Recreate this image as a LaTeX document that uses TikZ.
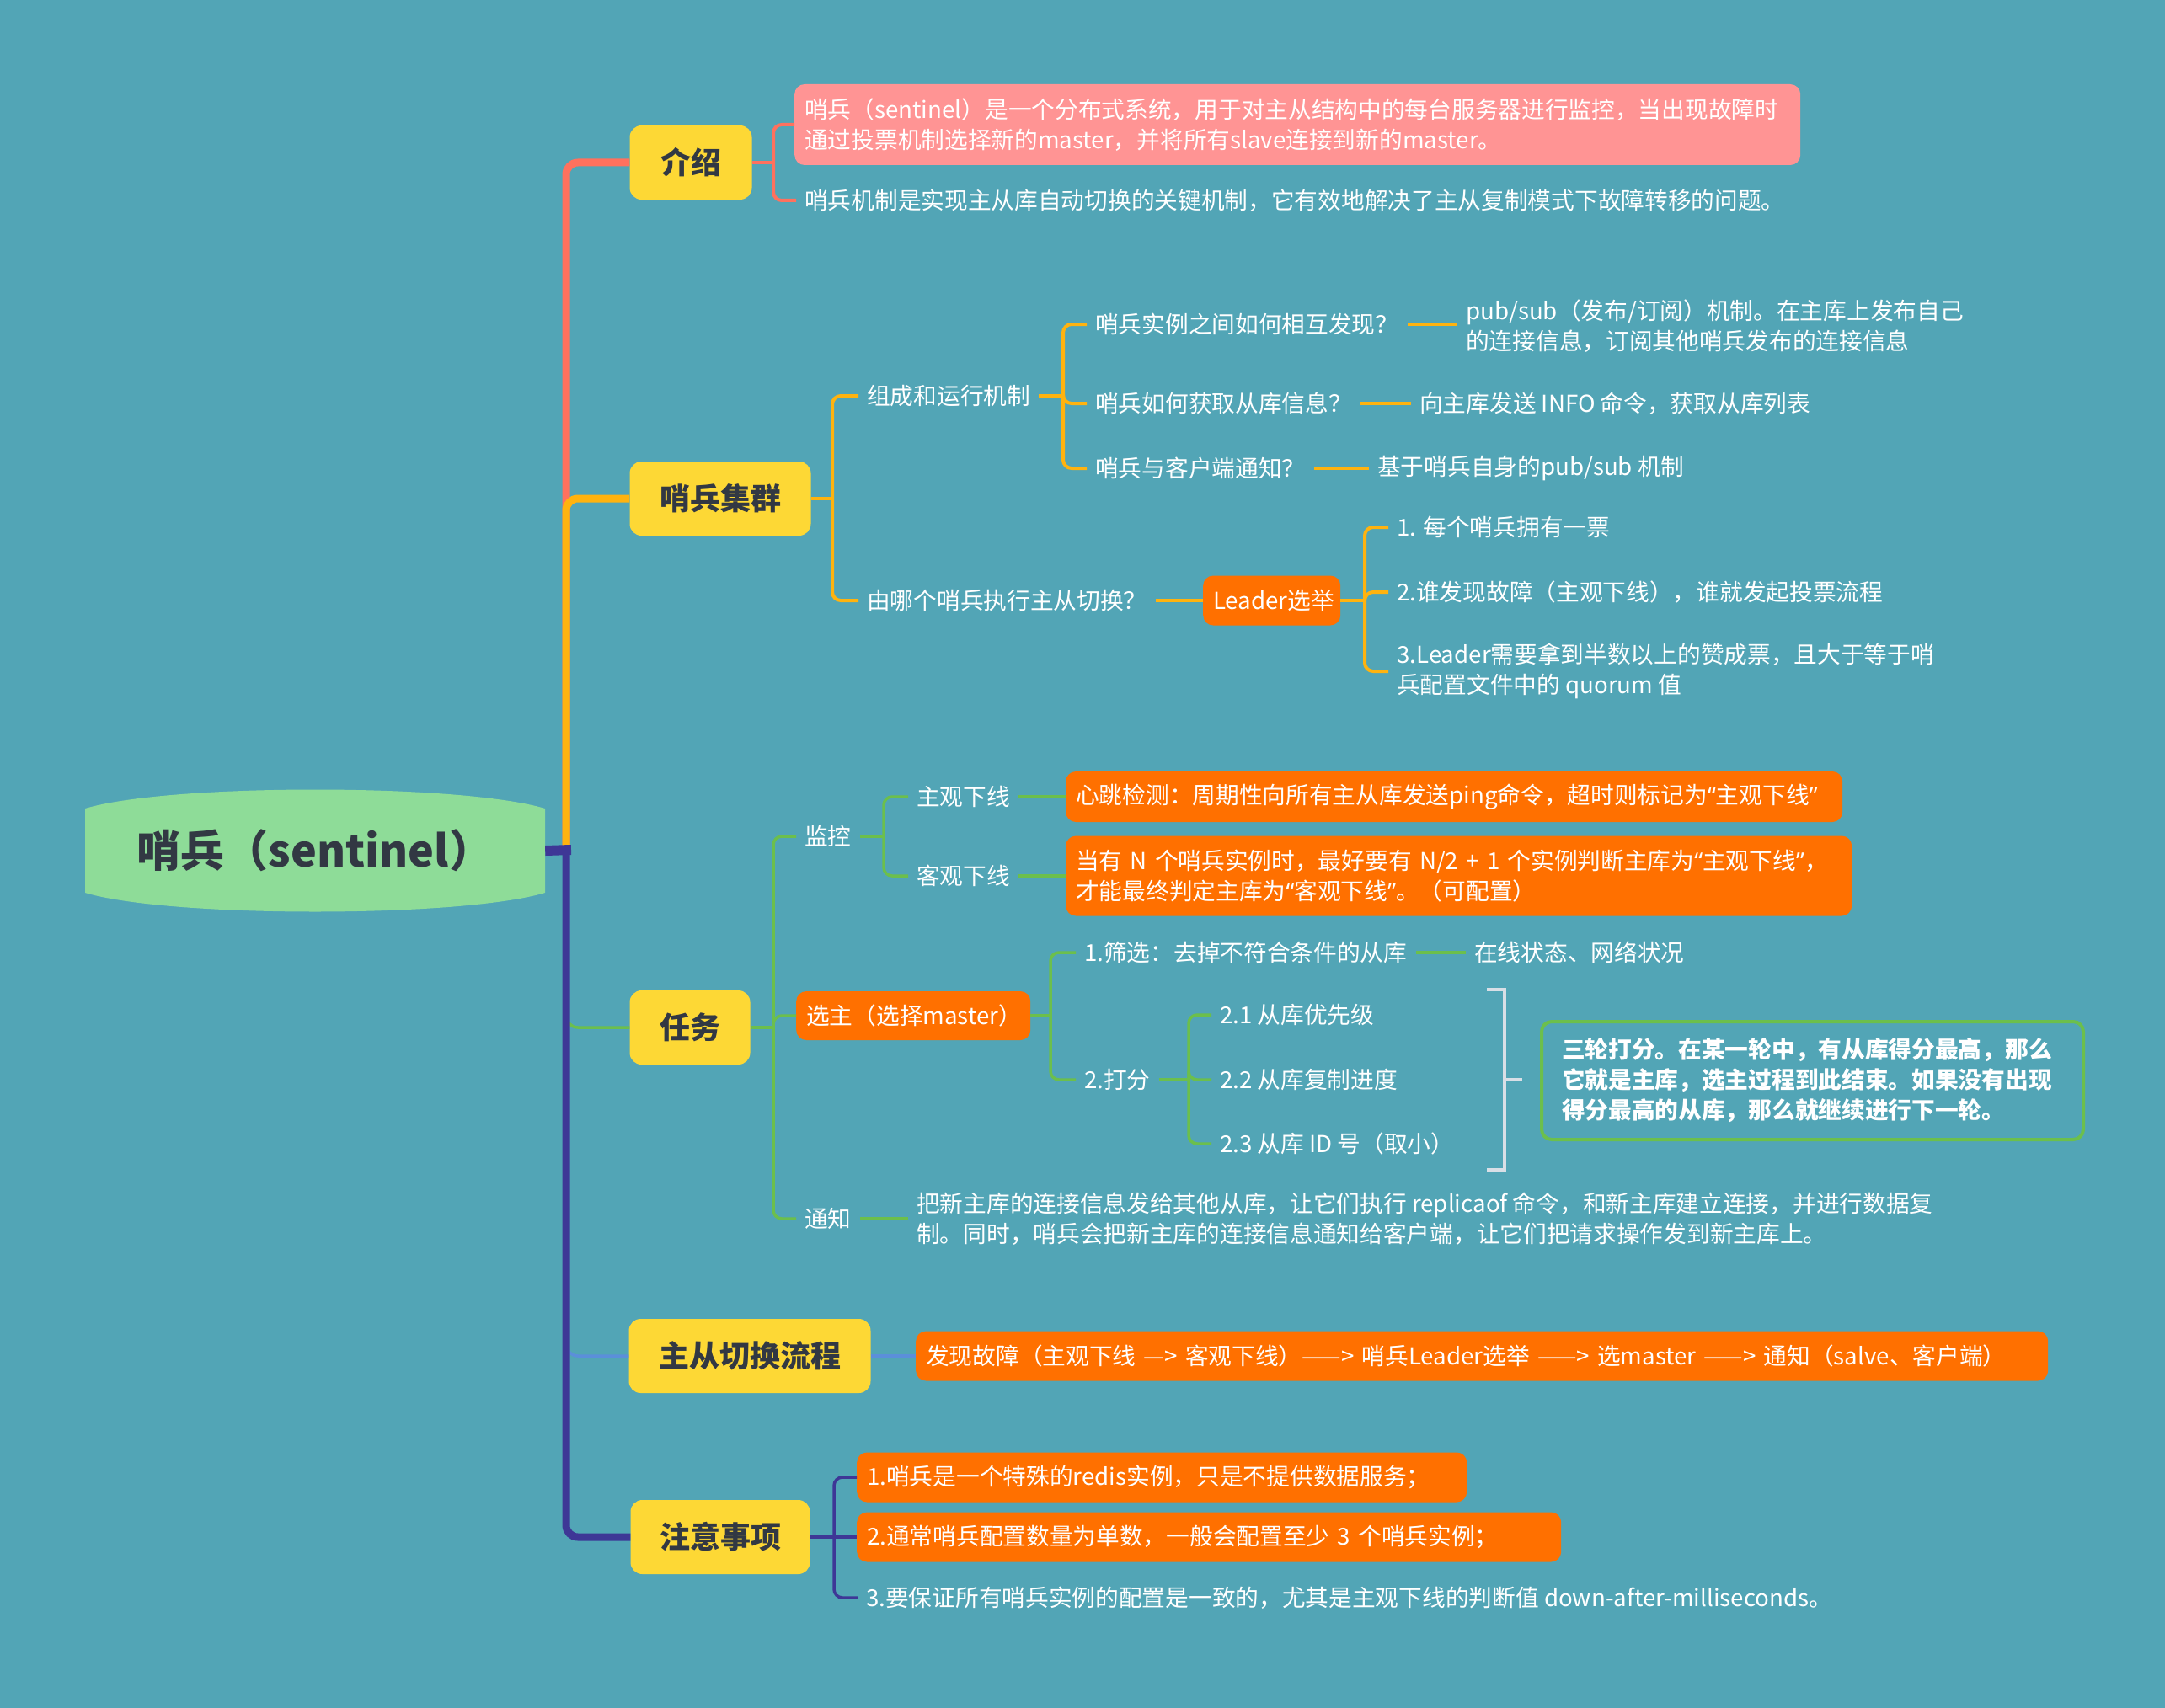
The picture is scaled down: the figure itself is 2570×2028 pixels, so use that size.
\documentclass[tikz,border=0pt]{standalone}
\usepackage{fontspec}
\setmainfont{Noto Sans CJK SC}
\newfontfamily\quotefont{Noto Sans}
\newcommand{\oq}{{\quotefont “}}
\newcommand{\cq}{{\quotefont ”}}
\definecolor{bg}{HTML}{52A5B6}
\definecolor{topicyellow}{HTML}{FDD835}
\definecolor{rootgreen}{HTML}{8EDC98}
\definecolor{darktext}{HTML}{323843}
\definecolor{pinkbox}{HTML}{FF9494}
\definecolor{orangebox}{HTML}{FF7000}
\definecolor{linered}{HTML}{FF715E}
\definecolor{linegold}{HTML}{FFB30F}
\definecolor{linegreen}{HTML}{6CBF4C}
\definecolor{lineblue}{HTML}{5B8FDA}
\definecolor{linepurple}{HTML}{3E3796}
\definecolor{summgray}{HTML}{D9DFE6}
\begin{document}
\begin{tikzpicture}[x=1pt,y=-1pt,
  every node/.style={text=white, font=\fontsize{27.7pt}{36pt}\selectfont},
  lbl/.style={anchor=west, inner xsep=10pt, inner ysep=3pt, align=left},
  topic/.style={fill=topicyellow, rounded corners=14pt, text=darktext,
    font=\fontsize{36pt}{40pt}\selectfont\bfseries, minimum height=88pt, inner sep=0pt},
  card/.style={anchor=west, rounded corners=12pt, inner xsep=12pt, inner ysep=0pt,
    align=left, text width=#1},
  trunk/.style={line width=9pt, rounded corners=14pt},
  slimbranch/.style={line width=3.5pt, rounded corners=14pt},
  twig/.style={line width=4pt, rounded corners=10pt},
]
\useasboundingbox (0,0) rectangle (2570,2028);
\fill[bg] (0,0) rectangle (2570,2028);

% ---------- central topic ----------
\fill[rootgreen] (101,960) .. controls (201,930) and (547,930) .. (647,960)
  -- (647,1060) .. controls (547,1090) and (201,1090) .. (101,1060) -- cycle;
\node[font=\fontsize{52pt}{58pt}\selectfont\bfseries, text=darktext,
  minimum width=546pt, inner sep=0pt] (root) at (374,1010) {哨兵（sentinel）};

% ---------- main topics ----------
\node[topic, minimum width=145pt] (jieshao) at (820,193) {介绍};
\node[topic, minimum width=215pt] (jiqun) at (855,592) {哨兵集群};
\node[topic, minimum width=143pt] (renwu) at (819,1220) {任务};
\node[topic, minimum width=287pt] (liucheng) at (890,1610) {主从切换流程};
\node[topic, minimum width=213pt] (zhuyi) at (855,1825) {注意事项};

% ---------- trunk ----------
\coordinate (hub) at (672,1009);
\draw[trunk, linered] (hub) |- (jieshao.west);
\draw[trunk, linegold] (hub) |- (jiqun.west);
\draw[slimbranch, linegreen] (hub) |- (renwu.west);
\draw[slimbranch, lineblue] (hub) |- (liucheng.west);
\draw[trunk, linepurple] ([yshift=-6pt]hub) |- (zhuyi.west);
\draw[linepurple, line width=12pt] (root.east) -- ([xshift=6pt]hub);

% ---------- 介绍 ----------
\node[card=1170pt, fill=pinkbox, minimum height=96pt] (intro1) at (943,148)
  {哨兵（sentinel）是一个分布式系统，用于对主从结构中的每台服务器进行监控，当出现故障时\\通过投票机制选择新的master，并将所有slave连接到新的master。};
\node[lbl] (intro2) at (945,238) {哨兵机制是实现主从库自动切换的关键机制，它有效地解决了主从复制模式下故障转移的问题。};
\coordinate (r1) at (918,193);
\draw[twig, linered] (jieshao.east) -- (r1);
\draw[twig, linered] (r1) |- (intro1.west);
\draw[twig, linered] (r1) |- (intro2.west);

% ---------- 哨兵集群 ----------
\node[lbl] (zucheng) at (1019,470) {组成和运行机制};
\node[lbl] (q1) at (1290,385) {哨兵实例之间如何相互发现？};
\node[lbl] (a1) at (1730,387) {pub/sub（发布/订阅）机制。在主库上发布自己\\的连接信息，订阅其他哨兵发布的连接信息};
\node[lbl] (q2) at (1290,479) {哨兵如何获取从库信息？};
\node[lbl] (a2) at (1675,479) {向主库发送 INFO 命令，获取从库列表};
\node[lbl] (q3) at (1290,556) {哨兵与客户端通知？};
\node[lbl] (a3) at (1625,556) {基于哨兵自身的pub/sub 机制};
\node[lbl] (youna) at (1019,713) {由哪个哨兵执行主从切换？};
\node[card=139pt, fill=orangebox, minimum height=59pt, align=center] (leader) at (1428,713) {Leader选举};
\node[lbl] (v1) at (1648,626) {1. 每个哨兵拥有一票};
\node[lbl] (v2) at (1648,703) {2.谁发现故障（主观下线），谁就发起投票流程};
\node[lbl] (v3) at (1648,797) {3.Leader需要拿到半数以上的赞成票，且大于等于哨\\兵配置文件中的 quorum 值};

\coordinate (g1) at (988,592);
\coordinate (g2) at (1262,470);
\coordinate (g3) at (1620,713);
\begin{scope}[twig, linegold]
  \draw (jiqun.east) -- (g1);
  \draw (g1) |- (zucheng.west);
  \draw (g1) |- (youna.west);
  \draw (zucheng.east) -- (g2);
  \draw (g2) |- (q1.west);
  \draw (g2) |- (q2.west);
  \draw (g2) |- (q3.west);
  \draw (q1.east) -- (q1.east -| a1.west);
  \draw (q2.east) -- (a2.west);
  \draw (q3.east) -- (a3.west);
  \draw (youna.east) -- (leader.west);
  \draw (leader.east) -- (g3);
  \draw (g3) |- (v1.west);
  \draw (g3) |- (v2.west);
  \draw (g3) |- (v3.west);
\end{scope}

% ---------- 任务 ----------
\node[lbl] (jiankong) at (945,993) {监控};
\node[card=254pt, fill=orangebox, minimum height=58pt] (xuanzhu) at (945,1206) {选主（选择master）};
\node[lbl] (tongzhi) at (945,1447) {通知};
\node[lbl] (zhuguan) at (1078,946) {主观下线};
\node[lbl] (keguan) at (1078,1040) {客观下线};
\node[card=898pt, fill=orangebox, minimum height=60pt] (hb) at (1265,946)
  {心跳检测：周期性向所有主从库发送ping命令，超时则标记为\oq 主观下线\cq};
\node[card=909pt, fill=orangebox, minimum height=95pt] (kg) at (1265,1040)
  {当有 N 个哨兵实例时，最好要有 N/2 + 1 个实例判断主库为\oq 主观下线\cq，\\才能最终判定主库为\oq 客观下线\cq。（可配置）};
\node[lbl] (shaixuan) at (1277,1131) {1.筛选：去掉不符合条件的从库};
\node[lbl] (zhuangtai) at (1740,1131) {在线状态、网络状况};
\node[lbl] (dafen) at (1277,1282) {2.打分};
\node[lbl] (d1) at (1438,1205) {2.1 从库优先级};
\node[lbl] (d2) at (1438,1282) {2.2 从库复制进度};
\node[lbl] (d3) at (1438,1358) {2.3 从库 ID 号（取小）};
\node[card=595pt, draw=linegreen, line width=4pt, inner xsep=24pt, minimum height=140pt,
  font=\fontsize{27.7pt}{36pt}\selectfont\bfseries] (sanlun) at (1828,1283)
  {三轮打分。在某一轮中，有从库得分最高，那么\\它就是主库，选主过程到此结束。如果没有出现\\得分最高的从库，那么就继续进行下一轮。};
\node[lbl] (tz) at (1078,1447) {把新主库的连接信息发给其他从库，让它们执行 replicaof 命令，和新主库建立连接，并进行数据复\\制。同时，哨兵会把新主库的连接信息通知给客户端，让它们把请求操作发到新主库上。};

\coordinate (t1) at (918,1220);
\coordinate (t2) at (1049,993);
\coordinate (t3) at (1247,1206);
\coordinate (t4) at (1411,1282);
\begin{scope}[twig, line width=3.5pt, linegreen]
  \draw (renwu.east) -- (t1);
  \draw (t1) |- (jiankong.west);
  \draw (t1) |- (xuanzhu.west);
  \draw (t1) |- (tongzhi.west);
  \draw (jiankong.east) -- (t2);
  \draw (t2) |- (zhuguan.west);
  \draw (t2) |- (keguan.west);
  \draw (zhuguan.east) -- (hb.west);
  \draw (keguan.east) -- (kg.west);
  \draw (xuanzhu.east) -- (t3);
  \draw (t3) |- (shaixuan.west);
  \draw (t3) |- (dafen.west);
  \draw (shaixuan.east) -- (zhuangtai.west);
  \draw (dafen.east) -- (t4);
  \draw (t4) |- (d1.west);
  \draw (t4) |- (d2.west);
  \draw (t4) |- (d3.west);
  \draw (tongzhi.east) -- (tongzhi.east -| tz.west);
\end{scope}
% summary bracket over the scoring items
\coordinate (s1) at (1765,1175);
\coordinate (s2) at (1765,1389);
\coordinate (s3) at (1786,1282);
\draw[summgray, line width=4pt] (s1) -| (s3) |- (s2);
\draw[summgray, line width=4pt] (s3) -- ++(21,0);

% ---------- 主从切换流程 ----------
\node[card=1320pt, fill=orangebox, minimum height=59pt] (flow) at (1087,1610)
  {发现故障（主观下线 —> 客观下线）——> 哨兵Leader选举 ——> 选master ——> 通知（salve、客户端）};
\draw[slimbranch, lineblue] (liucheng.east) -- (flow.west);

% ---------- 注意事项 ----------
\node[card=700pt, fill=orangebox, minimum height=59pt] (n1) at (1017,1754)
  {1.哨兵是一个特殊的redis实例，只是不提供数据服务；};
\node[card=812pt, fill=orangebox, minimum height=59pt] (n2) at (1017,1825)
  {2.通常哨兵配置数量为单数，一般会配置至少 3 个哨兵实例；};
\node[lbl] (n3) at (1018,1897) {3.要保证所有哨兵实例的配置是一致的，尤其是主观下线的判断值 down-after-milliseconds。};
\coordinate (p1) at (990,1825);
\begin{scope}[twig, line width=3.5pt, linepurple]
  \draw (zhuyi.east) -- (p1);
  \draw (p1) |- (n1.west);
  \draw (p1) -- (n2.west);
  \draw (p1) |- (n3.west);
\end{scope}
\end{tikzpicture}
\end{document}
